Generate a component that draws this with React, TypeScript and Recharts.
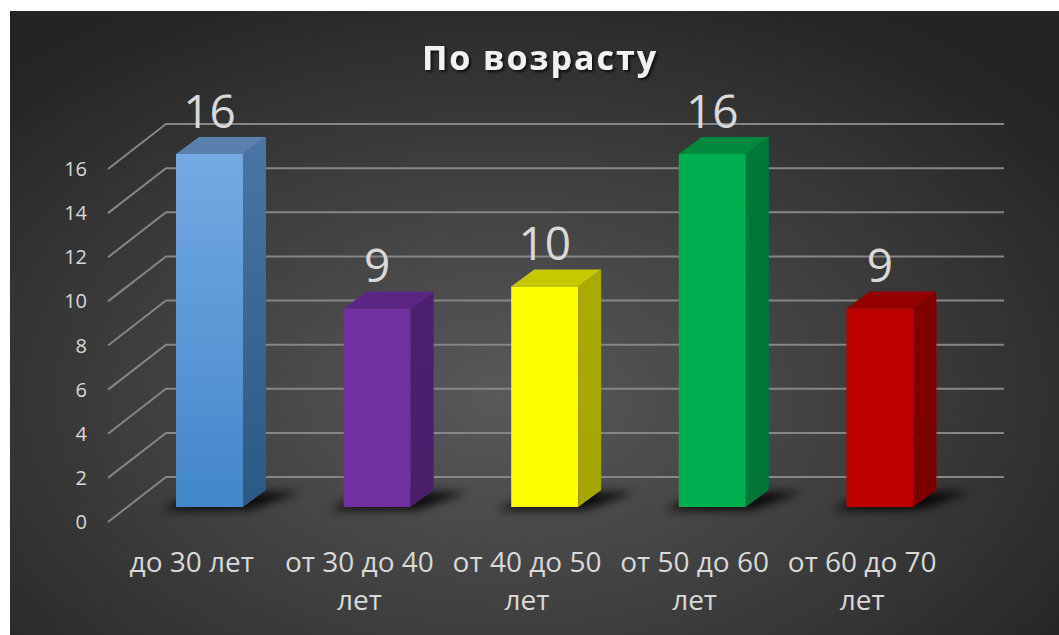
import { Bar, BarChart, CartesianGrid, Cell, LabelList, XAxis, YAxis } from 'recharts';

const categories = ['до 30 лет', 'от 30 до 40 лет', 'от 40 до 50 лет', 'от 50 до 60 лет', 'от 60 до 70 лет'];
const counts = [16, 9, 10, 16, 9];
const yTicks = [0, 2, 4, 6, 8, 10, 12, 14, 16];

const data = categories.map((label, i) => ({ label, count: counts[i] }));

// face colours per bar: front gradient, side gradient, top
const faces = [
  { front: ['#74aae1', '#4386cb'], side: ['#4a75a4', '#2b5884'], top: '#5a80ae' },
  { front: ['#7030a0', '#7030a0'], side: ['#4d2070', '#4a1e6b'], top: '#5b2583' },
  { front: ['#ffff00', '#ffff00'], side: ['#aaaa00', '#a6a600'], top: '#c8c800' },
  { front: ['#00b050', '#00b050'], side: ['#007a36', '#007534'], top: '#008a3e' },
  { front: ['#c00000', '#c00000'], side: ['#7e0000', '#7a0000'], top: '#940000' },
];

const FONT = '"Open Sans", sans-serif';
const GRID_DX = 58;
const GRID_DY = 45;
const BAR_DX = 18;
const BAR_DY = 15;
const BX = 23;
const BY = 17;

function Bar3D(props: any) {
  const { x, y, width, height, index } = props;
  const f = faces[index];
  const X = x + BAR_DX;
  const Y = y - BAR_DY;
  const W = width;
  const H = height;
  const b = Y + H;
  return (
    <g>
      <polygon
        points={`${X - 14},${b + 3} ${X + W + 6},${b + 3} ${X + W + BX + 34},${b - BY + 2} ${X + BX},${b - BY + 2}`}
        fill="#000"
        opacity={0.85}
        filter="url(#barShadow)"
      />
      <rect x={X} y={Y} width={W} height={H} fill={`url(#front${index})`} />
      <polygon
        points={`${X + W},${Y} ${X + W + BX},${Y - BY} ${X + W + BX},${b - BY} ${X + W},${b}`}
        fill={`url(#side${index})`}
      />
      <polygon points={`${X},${Y} ${X + BX},${Y - BY} ${X + W + BX},${Y - BY} ${X + W},${Y}`} fill={f.top} />
    </g>
  );
}

function ValueLabel({ x, y, width, value }: any) {
  return (
    <text
      x={x + width / 2 + BAR_DX}
      y={y - BAR_DY - 26}
      textAnchor="middle"
      fill="#d9d9d9"
      fontSize={46}
      fontFamily={FONT}
    >
      {value}
    </text>
  );
}

// wrap long labels before the last word, like the original
function CategoryTick({ x, y, payload }: any) {
  const label: string = payload.value;
  const cut = label.lastIndexOf(' ');
  const lines = label.length > 10 ? [label.slice(0, cut), label.slice(cut + 1)] : [label];
  return (
    <text x={x} y={y + 50} textAnchor="middle" fill="#d9d9d9" fontSize={28} fontFamily={FONT}>
      {lines.map((line, i) => (
        <tspan key={i} x={x} dy={i === 0 ? 0 : 38}>
          {line}
        </tspan>
      ))}
    </text>
  );
}

export default function App() {
  return (
    <div
      style={{
        position: 'absolute',
        left: 10,
        top: 11,
        width: 1049,
        height: 624,
        overflow: 'hidden',
        background: 'radial-gradient(ellipse 70% 75% at 47% 62%, #595959 0%, #3e3e3e 50%, #272727 90%, #232323 100%)',
      }}
    >
      <svg width={1049} height={624} style={{ position: 'absolute', left: 0, top: 0 }}>
        <defs>
          <filter id="barShadow" x="-50%" y="-100%" width="200%" height="300%">
            <feGaussianBlur stdDeviation="5" />
          </filter>
          <filter id="titleShadow" x="-10%" y="-30%" width="120%" height="160%">
            <feDropShadow dx="2" dy="2" stdDeviation="1.5" floodColor="#000" floodOpacity="0.75" />
          </filter>
          {faces.map((f, i) => (
            <linearGradient key={`f${i}`} id={`front${i}`} x1="0" y1="0" x2="0" y2="1">
              <stop offset="0%" stopColor={f.front[0]} />
              <stop offset="100%" stopColor={f.front[1]} />
            </linearGradient>
          ))}
          {faces.map((f, i) => (
            <linearGradient key={`s${i}`} id={`side${i}`} x1="0" y1="0" x2="0" y2="1">
              <stop offset="0%" stopColor={f.side[0]} />
              <stop offset="100%" stopColor={f.side[1]} />
            </linearGradient>
          ))}
        </defs>
        <text
          x={530}
          y={59}
          textAnchor="middle"
          fill="#f2f2f2"
          fontSize={34}
          fontWeight={700}
          letterSpacing={2}
          fontFamily={FONT}
          filter="url(#titleShadow)"
        >
          По возрасту
        </text>
      </svg>
      <div style={{ position: 'absolute', left: 0, top: 0 }}>
        <BarChart width={1049} height={624} data={data} margin={{ top: 158, right: 113, bottom: 0, left: 0 }}>
          <CartesianGrid
            vertical={false}
            horizontal={(p: any) => (
              <path
                key={`grid-${p.index}-${p.y1}`}
                d={`M${p.x1},${p.y1} L${p.x1 + GRID_DX},${p.y1 - GRID_DY} L${p.x2 + GRID_DX},${p.y1 - GRID_DY}`}
                stroke="#868686"
                strokeWidth={2}
                fill="none"
              />
            )}
          />
          <XAxis
            dataKey="label"
            height={113}
            axisLine={false}
            tickLine={false}
            tickSize={0}
            tickMargin={0}
            interval={0}
            tick={<CategoryTick />}
          />
          <YAxis
            width={98}
            domain={[0, 16]}
            ticks={yTicks}
            axisLine={false}
            tickLine={false}
            tickSize={6}
            tickMargin={15}
            tick={{ fill: '#d9d9d9', fontSize: 20, fontFamily: FONT }}
          />
          <Bar dataKey="count" barSize={67} shape={<Bar3D />} isAnimationActive={false}>
            {data.map((_, i) => (
              <Cell key={i} fill={faces[i].front[0]} />
            ))}
            <LabelList dataKey="count" content={<ValueLabel />} />
          </Bar>
        </BarChart>
      </div>
    </div>
  );
}
